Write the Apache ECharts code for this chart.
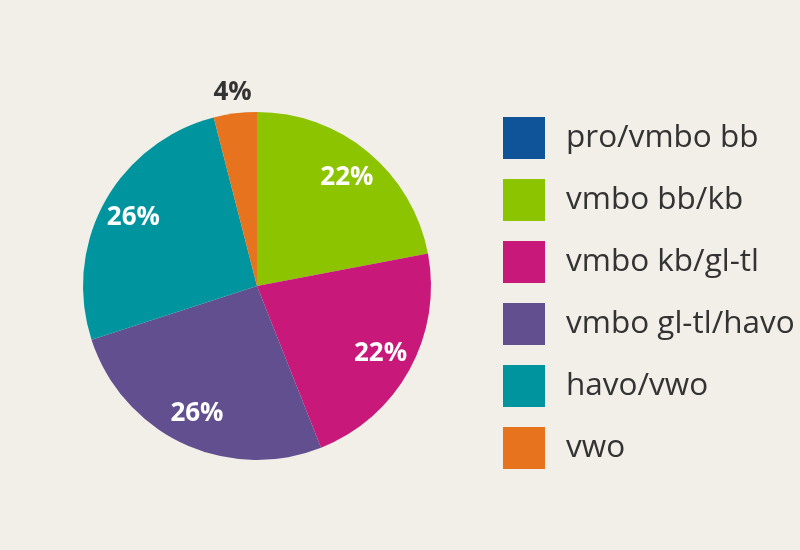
<!DOCTYPE html>
<html>
<head>
<meta charset="utf-8">
<script src="https://cdn.jsdelivr.net/npm/echarts@6/dist/echarts.min.js"></script>
<style>
  html, body { margin: 0; padding: 0; background: #f2eee8; }
  #chart { width: 800px; height: 550px; }
</style>
</head>
<body>
<div id="chart"></div>
<script>
// categorieen en percentages
const categories = ['pro/vmbo bb', 'vmbo bb/kb', 'vmbo kb/gl-tl', 'vmbo gl-tl/havo', 'havo/vwo', 'vwo'];
const values = [0, 22, 22, 26, 26, 4];
const colors = ['#0f5499', '#8cc400', '#c8187a', '#624f8f', '#00959e', '#e8731e'];

const fontFamily = '"Open Sans", "Noto Sans", sans-serif';
const center = [257, 286];

const pieData = categories.map((name, i) => ({
  name: name,
  value: values[i],
  itemStyle: { color: colors[i] }
}));

// labels binnen de taartpunten (ring zodat ze op ~80% van de straal staan)
const innerLabelData = categories.map((name, i) => ({
  name: name,
  value: values[i],
  label: { show: values[i] >= 10 }
}));

// kleine punt: label buiten de taart
const outerLabelData = categories.map((name, i) => ({
  name: name,
  value: values[i],
  label: { show: values[i] > 0 && values[i] < 10 }
}));

const myChart = echarts.init(document.getElementById('chart'));

const option = {
  backgroundColor: '#f2eee8',
  animation: false,
  legend: {
    orient: 'vertical',
    left: 503,
    top: 117,
    padding: 0,
    itemWidth: 42,
    itemHeight: 42,
    itemGap: 20,
    icon: 'rect',
    data: categories,
    textStyle: {
      fontFamily: fontFamily,
      fontSize: 31.5,
      color: '#333333',
      padding: [0, 0, 0, 16]
    }
  },
  series: [
    {
      type: 'pie',
      center: center,
      radius: [0, 174],
      startAngle: 90,
      data: pieData,
      label: { show: false },
      labelLine: { show: false },
      silent: true
    },
    {
      type: 'pie',
      center: center,
      radius: [104, 172],
      startAngle: 90,
      data: innerLabelData,
      itemStyle: { color: 'rgba(0,0,0,0)' },
      legendHoverLink: false,
      silent: true,
      label: {
        position: 'inside',
        formatter: '{c}%',
        color: '#ffffff',
        fontFamily: fontFamily,
        fontWeight: 'bold',
        fontSize: 26
      },
      labelLine: { show: false }
    },
    {
      type: 'pie',
      center: center,
      radius: [175, 209],
      startAngle: 90,
      data: outerLabelData,
      itemStyle: { color: 'rgba(0,0,0,0)' },
      silent: true,
      label: {
        position: 'inside',
        formatter: '{c}%',
        color: '#333333',
        fontFamily: fontFamily,
        fontWeight: 'bold',
        fontSize: 26
      },
      labelLine: { show: false }
    }
  ]
};

myChart.setOption(option);
</script>
</body>
</html>
